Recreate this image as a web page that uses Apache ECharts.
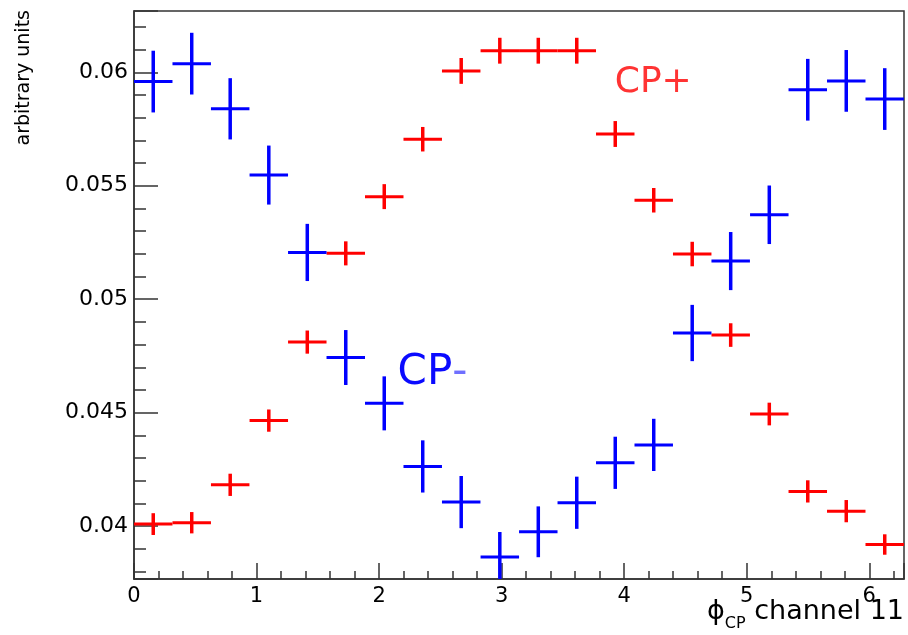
<!DOCTYPE html>
<html>
<head>
<meta charset="utf-8">
<script src="https://cdn.jsdelivr.net/npm/echarts@6.0.0/dist/echarts.min.js"></script>
<style>
  html, body { margin: 0; padding: 0; background: #ffffff; }
  #chart { width: 908px; height: 635px; }
</style>
</head>
<body>
<div id="chart"></div>
<script>
// ---- data ----
const binCenters = [0.157, 0.471, 0.785, 1.100, 1.414, 1.728, 2.042, 2.356, 2.670, 2.985,
                    3.299, 3.613, 3.927, 4.241, 4.555, 4.869, 5.184, 5.498, 5.812, 6.126];
const binHalfWidth = 0.157;

const cpPlus = [0.04009, 0.04015, 0.04182, 0.04465, 0.04811, 0.05202, 0.05452, 0.05705, 0.06006, 0.06095,
                0.06095, 0.06095, 0.05728, 0.05436, 0.05199, 0.04842, 0.04494, 0.04153, 0.04066, 0.03919];
const cpPlusErr = [0.00048, 0.00047, 0.00049, 0.00049, 0.00051, 0.00053, 0.00055, 0.00054, 0.00057, 0.00057,
                   0.00057, 0.00057, 0.00057, 0.00054, 0.00054, 0.00052, 0.00050, 0.00049, 0.00049, 0.00045];

const cpMinus = [0.05959, 0.06038, 0.05839, 0.05547, 0.05206, 0.04743, 0.04541, 0.04263, 0.04106, 0.03864,
                 0.03975, 0.04103, 0.04279, 0.04358, 0.04851, 0.05168, 0.05372, 0.05923, 0.05962, 0.05882];
const cpMinusErr = [0.00136, 0.00136, 0.00135, 0.00130, 0.00126, 0.00121, 0.00119, 0.00115, 0.00115, 0.00110,
                    0.00112, 0.00115, 0.00115, 0.00115, 0.00124, 0.00128, 0.00129, 0.00136, 0.00136, 0.00136];

const xMin = 0, xMax = 6.2832;
const yMin = 0.03767, yMax = 0.0627;

const annotations = [
  { name: 'CP+', x: 3.927, y: 0.05952 },
  { name: 'CP-', x: 2.155, y: 0.0467 }
];

const xTitle = 'channel 11';
const yTitle = 'arbitrary units';

// ---- chart ----
const RED = '#ff0000';
const BLUE = '#0000ff';
const FONT = 'DejaVu Sans';

function errorBarRenderer(color) {
  return function (params, api) {
    const x = api.value(0), y = api.value(1), e = api.value(2);
    const l = api.coord([x - binHalfWidth, y]);
    const r = api.coord([Math.min(x + binHalfWidth, xMax), y]);
    const t = api.coord([x, Math.min(y + e, yMax)]);
    const b = api.coord([x, Math.max(y - e, yMin)]);
    return {
      type: 'group',
      children: [
        { type: 'line', shape: { x1: l[0], y1: l[1], x2: r[0], y2: r[1] }, style: { stroke: color, lineWidth: 3 } },
        { type: 'line', shape: { x1: t[0], y1: t[1], x2: b[0], y2: b[1] }, style: { stroke: color, lineWidth: 3.5 } }
      ]
    };
  };
}

const chart = echarts.init(document.getElementById('chart'), null, { renderer: 'canvas' });

const option = {
  animation: false,
  backgroundColor: '#ffffff',
  grid: {
    left: 134, right: 4, top: 11, bottom: 56,
    show: true, borderColor: '#333333', borderWidth: 1.5, backgroundColor: 'transparent'
  },
  xAxis: {
    type: 'value',
    min: xMin, max: xMax, interval: 1,
    axisLine: { show: true, onZero: false, lineStyle: { color: '#333333', width: 1.5 } },
    axisTick: { show: true, inside: true, length: 16, lineStyle: { color: '#333333', width: 1.5 } },
    minorTick: { show: true, splitNumber: 5, length: 8, lineStyle: { color: '#333333', width: 1.5 } },
    splitLine: { show: false },
    axisLabel: {
      showMaxLabel: false, margin: 7, color: '#000000', fontFamily: FONT, fontSize: 21
    }
  },
  yAxis: {
    type: 'value',
    min: yMin, max: yMax,
    axisLine: { show: true, onZero: false, lineStyle: { color: '#333333', width: 1.5 } },
    axisTick: { show: true, inside: true, length: 24, lineStyle: { color: '#333333', width: 1.5 } },
    minorTick: { show: true, splitNumber: 5, length: 12, lineStyle: { color: '#333333', width: 1.5 } },
    splitLine: { show: false },
    axisLabel: {
      showMinLabel: false, showMaxLabel: false, margin: 6, color: '#000000', fontFamily: FONT, fontSize: 22,
      formatter: function (v) { return String(Number(v.toFixed(4))); }
    }
  },
  series: [
    {
      type: 'custom', name: 'CP+', renderItem: errorBarRenderer(RED),
      data: binCenters.map((x, i) => [x, cpPlus[i], cpPlusErr[i]]),
      encode: { x: 0, y: 1 }, z: 3
    },
    {
      type: 'custom', name: 'CP-', renderItem: errorBarRenderer(BLUE),
      data: binCenters.map((x, i) => [x, cpMinus[i], cpMinusErr[i]]),
      encode: { x: 0, y: 1 }, z: 4
    },
    {
      type: 'scatter', symbolSize: 1, itemStyle: { color: 'rgba(0,0,0,0)', opacity: 1 }, z: 5,
      silent: true,
      data: [
        {
          value: [annotations[0].x, annotations[0].y], name: annotations[0].name,
          label: {
            show: true, position: [0, 0], align: 'left', verticalAlign: 'middle',
            formatter: '{b}', fontFamily: FONT, fontSize: 36, color: '#ff3333'
          }
        },
        {
          value: [annotations[1].x, annotations[1].y], name: annotations[1].name,
          label: {
            show: true, position: [0, 0], align: 'left', verticalAlign: 'middle',
            formatter: '{m|CP}{d|-}',
            rich: {
              m: { fontFamily: FONT, fontSize: 42, color: '#0a0aff' },
              d: { fontFamily: FONT, fontSize: 42, color: '#6f6fff' }
            }
          }
        }
      ]
    }
  ],
  graphic: [
    {
      type: 'text', x: 24, y: 10, rotation: Math.PI / 2,
      style: {
        text: yTitle, fontFamily: FONT, fontSize: 19, fill: '#000000',
        align: 'right', verticalAlign: 'middle'
      }
    },
    {
      type: 'text', right: 4, top: 598,
      style: {
        text: '{p|ϕ}{s|CP}{c| ' + xTitle + '}',
        rich: {
          p: { fontFamily: FONT, fontSize: 27, fill: '#000000', lineHeight: 40, verticalAlign: 'middle' },
          s: { fontFamily: FONT, fontSize: 16, fill: '#000000', lineHeight: 40, verticalAlign: 'bottom' },
          c: { fontFamily: FONT, fontSize: 27, fill: '#000000', lineHeight: 40, verticalAlign: 'middle' }
        }
      }
    }
  ]
};

chart.setOption(option);
</script>
</body>
</html>
